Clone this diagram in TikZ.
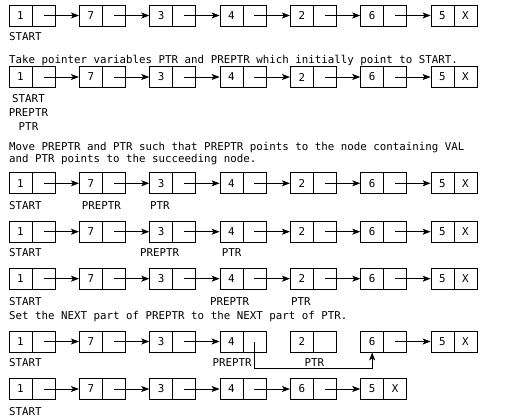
\documentclass[tikz,border=0pt]{standalone}
\usepackage{fontspec}
\newfontfamily\monof{DejaVu Sans Mono}
\usetikzlibrary{arrows.meta}

\begin{document}
\begin{tikzpicture}[x=1pt,y=-1pt]

\tikzset{cell/.style = {draw, line width=0.8pt, inner sep=0pt, minimum width=46pt, minimum height=21pt, font=\monof\fontsize{10.8}{13}\selectfont,
  path picture={\draw[line width=0.8pt] (path picture bounding box.north) -- (path picture bounding box.south);}}}
\tikzset{edge/.style = {-{Stealth[length=8pt,width=6pt,inset=2pt]}, line width=0.8pt}}
\tikzset{txt/.style = {anchor=base west, inner sep=0pt, font=\monof\fontsize{10.8}{13}\selectfont}}

\useasboundingbox (0,0) rectangle (509,420);

% lists
\foreach \r/\y in {1/15.5,2/77,3/183.3,4/231.7,5/278.7,6/341.5}{
  \foreach \v/\w [count=\i] in {1/,7/,3/,4/,2/,6/,5/X}
    \node[cell] (n\r-\i) at (32+70.33*\i-70.33,\y) {\makebox[23pt]{\v}\makebox[23pt]{\w}};
}
\foreach \v/\w [count=\i] in {1/,7/,3/,4/,6/,5/X}
  \node[cell] (n7-\i) at (32+70.33*\i-70.33,389) {\makebox[23pt]{\v}\makebox[23pt]{\w}};

% edges
\foreach \r in {1,...,5}
  \foreach \a/\b in {1/2,2/3,3/4,4/5,5/6,6/7}
    \draw[edge] ([xshift=11.5pt]n\r-\a.center) -- (n\r-\b.west);
\foreach \a/\b in {1/2,2/3,3/4,6/7}
  \draw[edge] ([xshift=11.5pt]n6-\a.center) -- (n6-\b.west);
\draw[edge] ([xshift=11.5pt]n6-4.center) -- ++(0,26.5) -| ([xshift=-11.5pt]n6-6.south);
\foreach \a/\b in {1/2,2/3,3/4,4/5,5/6}
  \draw[edge] ([xshift=11.5pt]n7-\a.center) -- (n7-\b.west);

% labels
\node[txt] (start1) at (9,41) {START};
\node[txt] (step1) at (9,64) {Take pointer variables PTR and PREPTR which initially point to START.};
\node[txt,anchor=base] (start2) at (28.5,102.7) {START};
\node[txt,anchor=base] (preptr2) at (28.5,116.7) {PREPTR};
\node[txt,anchor=base] (ptr2) at (28.5,130) {PTR};
\node[txt] (step2) at (9,150) {Move PREPTR and PTR such that PREPTR points to the node containing VAL};
\node[txt] (step3) at (9,162.7) {and PTR points to the succeeding node.};
\node[txt] (start3) at (9,209) {START};
\node[txt] (preptr3) at (81.7,209) {PREPTR};
\node[txt] (ptr3) at (150,209) {PTR};
\node[txt] (start4) at (9,256.7) {START};
\node[txt] (preptr4) at (140,256.7) {PREPTR};
\node[txt] (ptr4) at (221.7,256.7) {PTR};
\node[txt] (start5) at (9,305.5) {START};
\node[txt] (preptr5) at (210,305.5) {PREPTR};
\node[txt] (ptr5) at (291,305.5) {PTR};
\node[txt] (step4) at (9,319.5) {Set the NEXT part of PREPTR to the NEXT part of PTR.};
\node[txt] (start6) at (9,366) {START};
\node[txt] (preptr6) at (212.5,366) {PREPTR};
\node[txt] (ptr6) at (304.5,366) {PTR};
\node[txt] (start7) at (9,415) {START};

\end{tikzpicture}
\end{document}
